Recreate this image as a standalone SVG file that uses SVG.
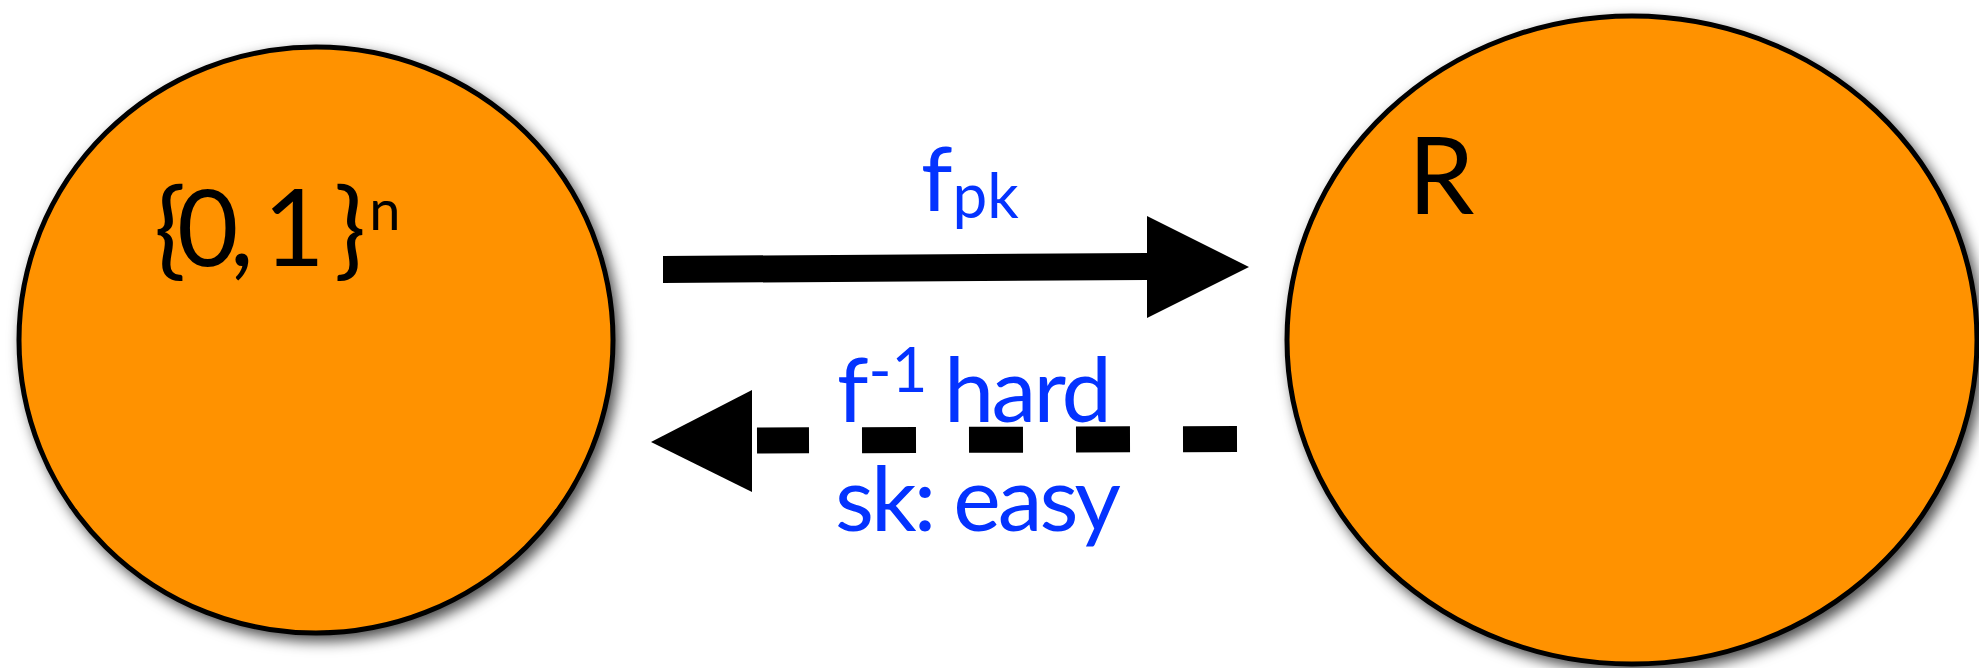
<svg xmlns="http://www.w3.org/2000/svg" width="1979" height="668" viewBox="0 0 1979 668">
  <style>
    .node { fill: #FF9200; stroke: #000; stroke-width: 5; }
    .nodetext { font-family: Lato, "Open Sans", "Liberation Sans", sans-serif; fill: #000; }
    .label { font-family: Lato, "Open Sans", "Liberation Sans", sans-serif; fill: #0433FF; font-size: 90px; }
    .sub { font-size: 62px; }
    .solid { fill: #000; stroke: none; }
    .dashed { fill: none; stroke: #000; stroke-width: 26; stroke-dasharray: 54 53; stroke-linecap: butt; }
  </style>
  <defs>
    <filter id="shadow" x="-10%" y="-10%" width="125%" height="125%">
      <feDropShadow dx="5" dy="6" stdDeviation="7" flood-color="#000" flood-opacity="0.7"/>
    </filter>
  </defs>
  <rect width="1979" height="668" fill="#fff"/>

  <g id="node-bits">
    <ellipse class="node" cx="316" cy="340" rx="297" ry="293" filter="url(#shadow)"/>
    <text class="nodetext" font-size="106" x="154" y="266"><tspan textLength="212" lengthAdjust="spacing">{0, 1 }</tspan><tspan dx="12" dy="-36" font-size="56">n</tspan></text>
  </g>

  <g id="node-R">
    <ellipse class="node" cx="1632" cy="340" rx="345" ry="324" filter="url(#shadow)"/>
    <text class="nodetext" font-size="106" x="1408" y="214">R</text>
  </g>

  <g id="connectors">
    <path class="solid" d="M663,256 L1147,253 L1147,216 L1249,267 L1147,318 L1147,280 L663,283 Z"/>
    <path class="dashed" d="M1237,439 L757,440.5"/>
    <path class="solid" d="M651,442 L752,390 L752,492 Z"/>
    <text class="label" x="921" y="211">f<tspan class="sub" dy="7">pk</tspan></text>
    <text class="label" x="837" y="422">f<tspan class="sub" dy="-30">-1</tspan><tspan x="944" y="422" textLength="168" lengthAdjust="spacing">hard</tspan></text>
    <text class="label" x="835" y="531" textLength="286" lengthAdjust="spacing">sk: easy</text>
  </g>
</svg>
